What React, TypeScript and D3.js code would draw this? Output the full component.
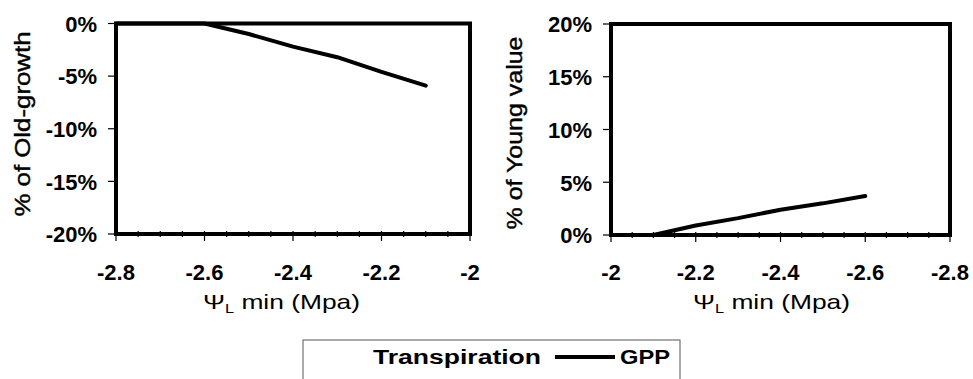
import React from "react";
import * as d3 from "d3";

const leftX = [-2.8, -2.7, -2.6, -2.5, -2.4, -2.3, -2.2, -2.1];
const leftGPP = [0, 0, 0, -1.0, -2.2, -3.2, -4.6, -5.9];
const rightX = [-2.0, -2.1, -2.2, -2.3, -2.4, -2.5, -2.6];
const rightGPP = [0, 0, 0.9, 1.6, 2.4, 3.0, 3.7];
const xTicks = [-2.8, -2.6, -2.4, -2.2, -2];
const leftYTicks = [0, -5, -10, -15, -20];
const rightYTicks = [0, 5, 10, 15, 20];
const legendLabels = ["Transpiration", "GPP"];

const FONT = "'Liberation Sans', Arial, sans-serif";

type PanelProps = {
  left: number; right: number; top: number; bottom: number;
  xDomain: [number, number]; yDomain: [number, number];
  yTicks: number[]; xs: number[]; ys: number[];
  yTitle: string; yTitleX: number; yTitleY: number; yTitleLen: number;
  xTitleX: number; xTitleLen: number;
};

function Panel(p: PanelProps) {
  const x = d3.scaleLinear().domain(p.xDomain).range([p.left, p.right]);
  const y = d3.scaleLinear().domain(p.yDomain).range([p.bottom, p.top]);
  const minor = d3.range(0, 17).map((i) => -2 - i * 0.05);
  const pts = p.xs.map((v, i) => [v, p.ys[i]] as [number, number]);
  const line = d3.line<[number, number]>().x((d) => x(d[0])).y((d) => y(d[1]));
  return (
    <g>
      {p.yTicks.map((t) => (
        <g key={"y" + t}>
          <line x1={p.left - 8} x2={p.left} y1={y(t)} y2={y(t)} stroke="#000" strokeWidth={1.2} />
          <text x={p.left - 19} y={y(t)} dy="0.38em" textAnchor="end" fontFamily={FONT} fontWeight="bold" fontSize={22}>
            {t + "%"}
          </text>
        </g>
      ))}
      {minor.map((t, i) => (
        <line key={"m" + i} x1={x(t)} x2={x(t)} y1={p.bottom - 3} y2={p.bottom + (i % 4 === 0 ? 7 : 3)} stroke="#000" strokeWidth={1.2} />
      ))}
      {xTicks.map((t) => (
        <text key={"x" + t} x={x(t)} y={280} textAnchor="middle" fontFamily={FONT} fontWeight="bold" fontSize={22}>
          {String(t)}
        </text>
      ))}
      <rect x={p.left} y={p.top} width={p.right - p.left} height={p.bottom - p.top} fill="none" stroke="#000" strokeWidth={4} />
      <path d={line(pts) || ""} fill="none" stroke="#000" strokeWidth={4} strokeLinejoin="round" strokeLinecap="round" />
      <text
        transform={`translate(${p.yTitleX},${p.yTitleY}) rotate(-90)`}
        textAnchor="middle" dominantBaseline="central" fontFamily={FONT} fontSize={22}
        stroke="#000" strokeWidth={0.4}
        textLength={p.yTitleLen} lengthAdjust="spacingAndGlyphs"
      >
        {p.yTitle}
      </text>
      <text x={p.xTitleX} y={309} fontFamily={FONT} fontSize={21} textLength={p.xTitleLen} lengthAdjust="spacingAndGlyphs">
        {"Ψ"}
        <tspan fontSize={13} dy={4}>L</tspan>
        <tspan dy={-4}>{" min (Mpa)"}</tspan>
      </text>
    </g>
  );
}

export default function App() {
  return (
    <svg width={973} height={379} style={{ position: "absolute", left: 0, top: 0, background: "#fff" }}>
      <rect x={0} y={0} width={973} height={379} fill="#fff" />
      <Panel
        left={116} right={470} top={23.5} bottom={234}
        xDomain={[-2.8, -2]} yDomain={[-20, 0]} yTicks={leftYTicks}
        xs={leftX} ys={leftGPP}
        yTitle="% of Old-growth" yTitleX={22} yTitleY={124} yTitleLen={185}
        xTitleX={203} xTitleLen={157}
      />
      <Panel
        left={611} right={950} top={24} bottom={235}
        xDomain={[-2, -2.8]} yDomain={[0, 20]} yTicks={rightYTicks}
        xs={rightX} ys={rightGPP}
        yTitle="% of Young value" yTitleX={514} yTitleY={133} yTitleLen={193}
        xTitleX={693} xTitleLen={157}
      />
      <rect x={303} y={340} width={377} height={60} fill="none" stroke="#555" strokeWidth={1} />
      <text x={373} y={364} fontFamily={FONT} fontWeight="bold" fontSize={20} textLength={168} lengthAdjust="spacingAndGlyphs">
        {legendLabels[0]}
      </text>
      <line x1={555} x2={615} y1={357} y2={357} stroke="#000" strokeWidth={4} />
      <text x={620} y={364} fontFamily={FONT} fontWeight="bold" fontSize={20} textLength={50} lengthAdjust="spacingAndGlyphs">
        {legendLabels[1]}
      </text>
    </svg>
  );
}
